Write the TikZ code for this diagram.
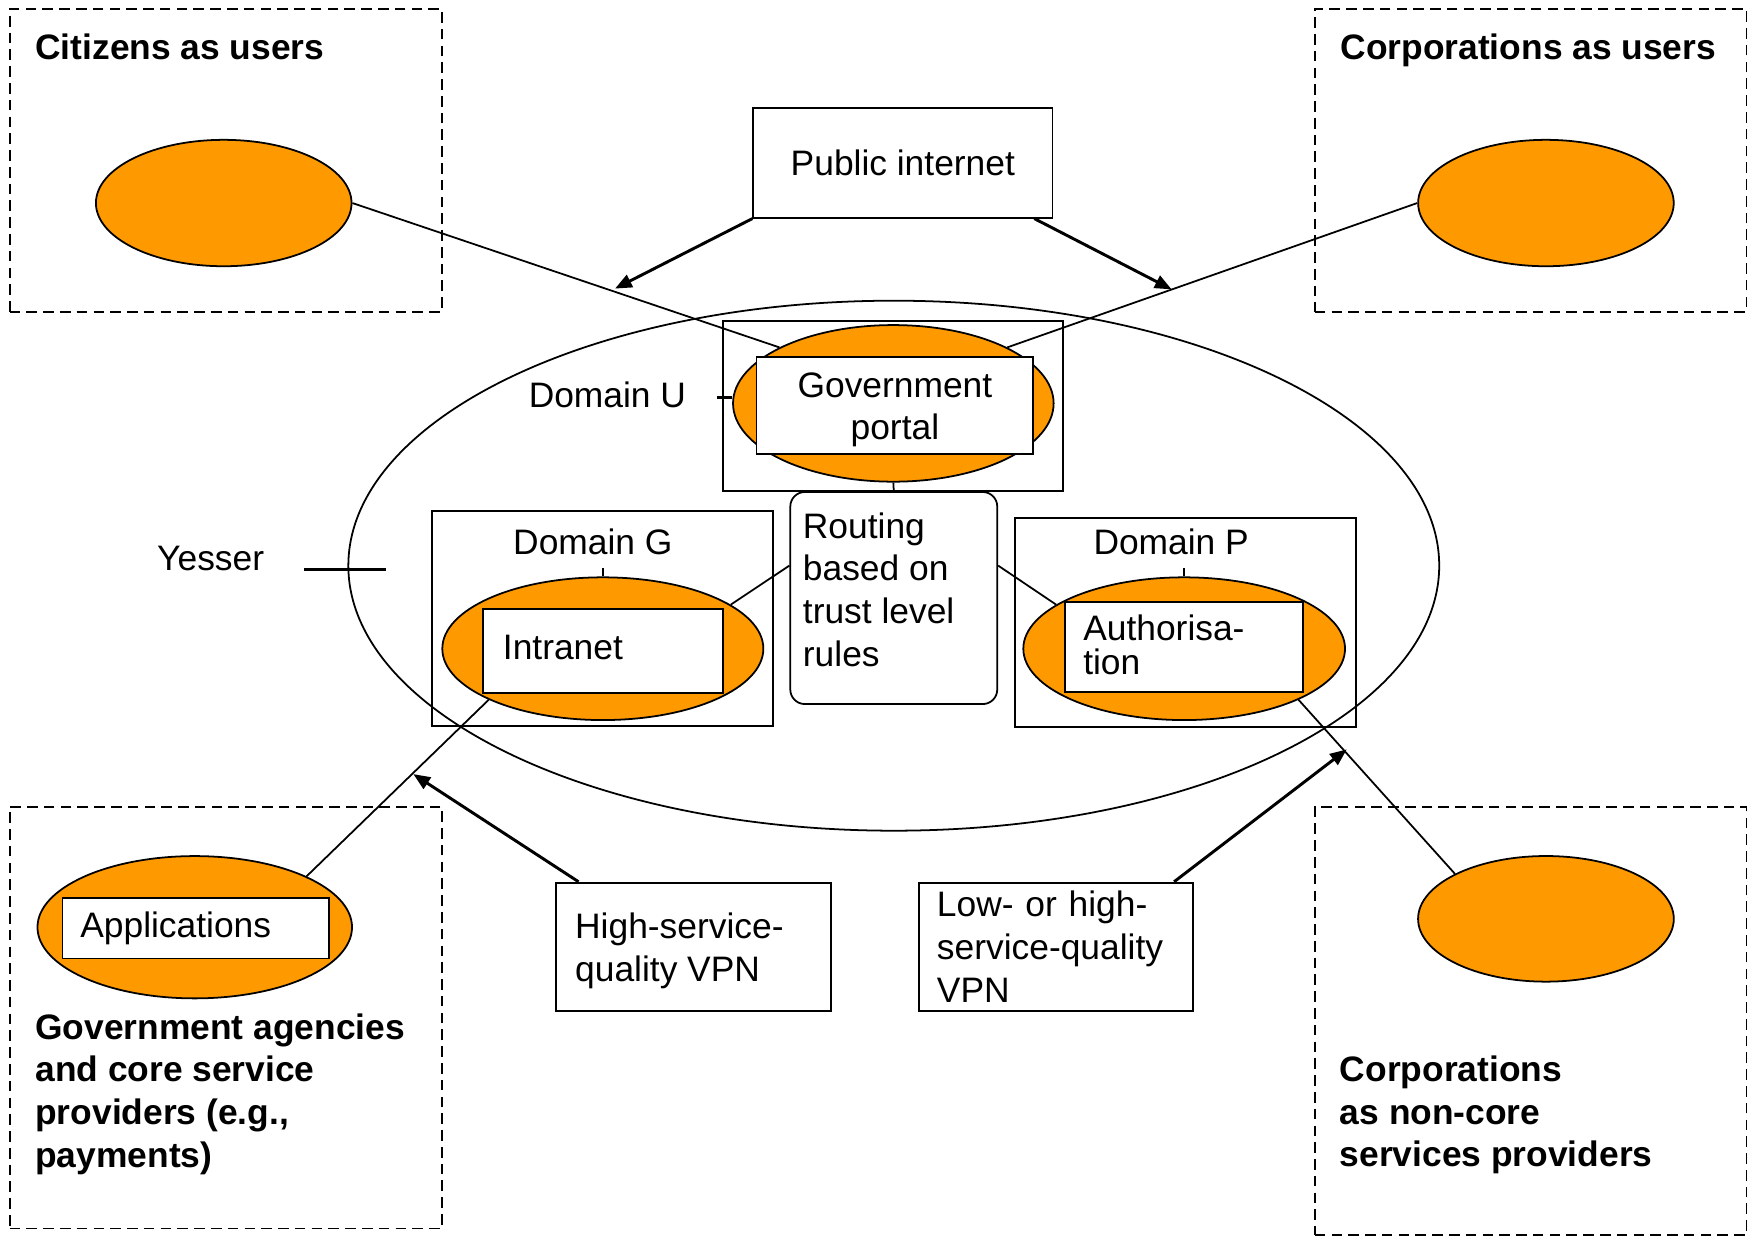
\documentclass[tikz,border=0pt]{standalone}
\usepackage{fontspec}
\setmainfont{Liberation Sans}
\usepackage{tikz}
\usetikzlibrary{shapes.geometric,arrows.meta}
\definecolor{portalorange}{RGB}{255,153,0}

\begin{document}
\begin{tikzpicture}[x=0.1mm, y=-0.1mm, line width=0.45pt,
    every node/.style={font=\fontsize{9pt}{10.85pt}\selectfont},
    blob/.style={ellipse, draw, fill=portalorange, inner sep=0pt},
    domainbox/.style={rectangle, draw, inner sep=0pt},
    labelbox/.style={rectangle, draw, fill=white, inner xsep=1.6mm, inner ysep=0pt, align=left},
    boxtext/.style={anchor=west, align=left, inner sep=0pt},
    usergroup/.style={rectangle, draw, dash pattern=on 0.95mm off 0.55mm, inner sep=0pt},
    heading/.style={anchor=north west, align=left, inner sep=0pt, font=\bfseries\fontsize{9pt}{10.85pt}\selectfont},
    flow/.style={-{Triangle[length=1.5mm, width=1.2mm]}, line width=0.75pt}]

\useasboundingbox (0,0) rectangle (1568,1109.4);

% user groups (dashed)
\draw (201.9,143.3) node[usergroup, minimum width=38.66mm, minimum height=27.06mm](citbox){}
    (1368.3,143.3) node[usergroup, minimum width=38.6mm, minimum height=27.06mm](corpbox){}
    (201.9,909.7) node[usergroup, minimum width=38.66mm, minimum height=37.69mm](govbox){}
    (1368.3,912.8) node[usergroup, minimum width=38.6mm, minimum height=38.31mm](ncbox){};
\draw (30.8,29.8) node[heading](cittitle){Citizens as users}
    (1197.6,29.8) node[heading](corptitle){Corporations as users}
    (30.8,905.4) node[heading](govtitle){Government agencies\\and core service\\providers (e.g.,\\payments)}
    (1197,943.2) node[heading](nctitle){Corporations\\as non-core\\services providers};

% Yesser and its domains
\draw (799,505.7) node[ellipse, draw, inner sep=0pt, minimum width=97.52mm, minimum height=47.38mm](yesser){}
    (798.3,362.9) node[domainbox, minimum width=30.44mm, minimum height=15.23mm](domu){}
    (538.9,553) node[domainbox, minimum width=30.48mm, minimum height=19.2mm](domg){}
    (1059.8,556.5) node[domainbox, minimum width=30.48mm, minimum height=18.63mm](domp){};
\draw (543,353.1) node(dulabel){Domain U}
    (530,484) node(dglabel){Domain G}
    (1047,484) node(dplabel){Domain P}
    (188.3,499.4) node(yslabel){Yesser};

\coordinate (utick) at (641.3,355.2);
\coordinate (gtick) at (538.9,508);
\coordinate (ptick) at (1058.6,508);
\coordinate (ysa) at (271.8,509);
\coordinate (ysb) at (345,509);
\coordinate (publeft) at (549.8,258);
\coordinate (pubright) at (1047.4,258.7);
\coordinate (hightip) at (369.5,692);
\coordinate (lowtip) at (1204,669.9);

% orange parts
\draw (200,181.5) node[blob, minimum width=22.85mm, minimum height=11.3mm](cit){}
    (1382,181.5) node[blob, minimum width=22.85mm, minimum height=11.3mm](corpu){}
    (798.6,360.6) node[blob, minimum width=28.66mm, minimum height=14mm](portal){}
    (538.9,579.9) node[blob, minimum width=28.7mm, minimum height=12.76mm](intra){}
    (1058.6,579.9) node[blob, minimum width=28.76mm, minimum height=12.76mm](auth){}
    (174.1,828.9) node[blob, minimum width=28.12mm, minimum height=12.72mm](apps){}
    (1382,821.4) node[blob, minimum width=22.86mm, minimum height=11.23mm](noncore){};

% boxes with text
\draw (807.1,145.7) node[domainbox, minimum width=26.74mm, minimum height=9.78mm](pub){Public internet}
    (800,362.6) node[rectangle, draw, fill=white, inner sep=0pt, minimum width=24.75mm, minimum height=8.65mm](portalbox){}
    (799,534.6) node[rectangle, draw, rounded corners=1.3mm, minimum width=18.5mm, minimum height=18.96mm](route){}
    (539,581.7) node[labelbox, minimum width=21.43mm, minimum height=7.5mm](intrabox){}
    (1058.6,578.4) node[labelbox, minimum width=21.3mm, minimum height=8.1mm](authbox){}
    (175,829.9) node[labelbox, text width=20.64mm, minimum width=23.84mm, minimum height=5.37mm](appsbox){Applications}
    (619.8,846.3) node[labelbox, minimum width=24.56mm, minimum height=11.45mm](hvpn){}
    (944.2,846.3) node[labelbox, text width=21.32mm, minimum width=24.52mm, minimum height=11.45mm](lvpn){Low- or high-\\service-quality\\VPN};
\draw (800,366.4) node[align=center, inner sep=0pt](portaltxt){Government\\portal}
    (717,457.4) node[anchor=north west, align=left, inner sep=0pt](routetxt){Routing\\based on\\trust level\\rules}
    (448.8,578.7) node[boxtext](intratxt){Intranet}
    (967.6,576.2) node[boxtext, font=\fontsize{9pt}{8.7pt}\selectfont](authtxt){Authorisa-\\tion}
    (513.4,850.3) node[boxtext](hvpntxt){High-service-\\quality VPN};

% connectors
\draw [-] (cit.east) -- (portal.north west);
\draw [-] (corpu.west) -- (portal.north east);
\draw [-] (portal.south) -- (route.north);
\draw [-] ([yshift=2.9mm]route.west) -- (intra.19);
\draw [-] ([yshift=2.9mm]route.east) -- (auth.161);
\draw [-] (apps.north east) -- (intra.south west);
\draw [-] (noncore.north west) -- (auth.south east);
\draw [-] (intra.north) -- (gtick);
\draw [-] (auth.north) -- (ptick);
\draw [-, line width=0.65pt] (utick) -- (utick -| portal.west);
\draw [-, line width=0.65pt] (ysa) -- (ysb);

% traffic
\draw [flow] (pub.south west) -- (publeft);
\draw [flow] ([xshift=-1.7mm]pub.south east) -- (pubright);
\draw [flow] ([xshift=2.1mm]hvpn.north west) -- (hightip);
\draw [flow] ([xshift=-1.8mm]lvpn.north east) -- (lowtip);
\end{tikzpicture}
\end{document}
